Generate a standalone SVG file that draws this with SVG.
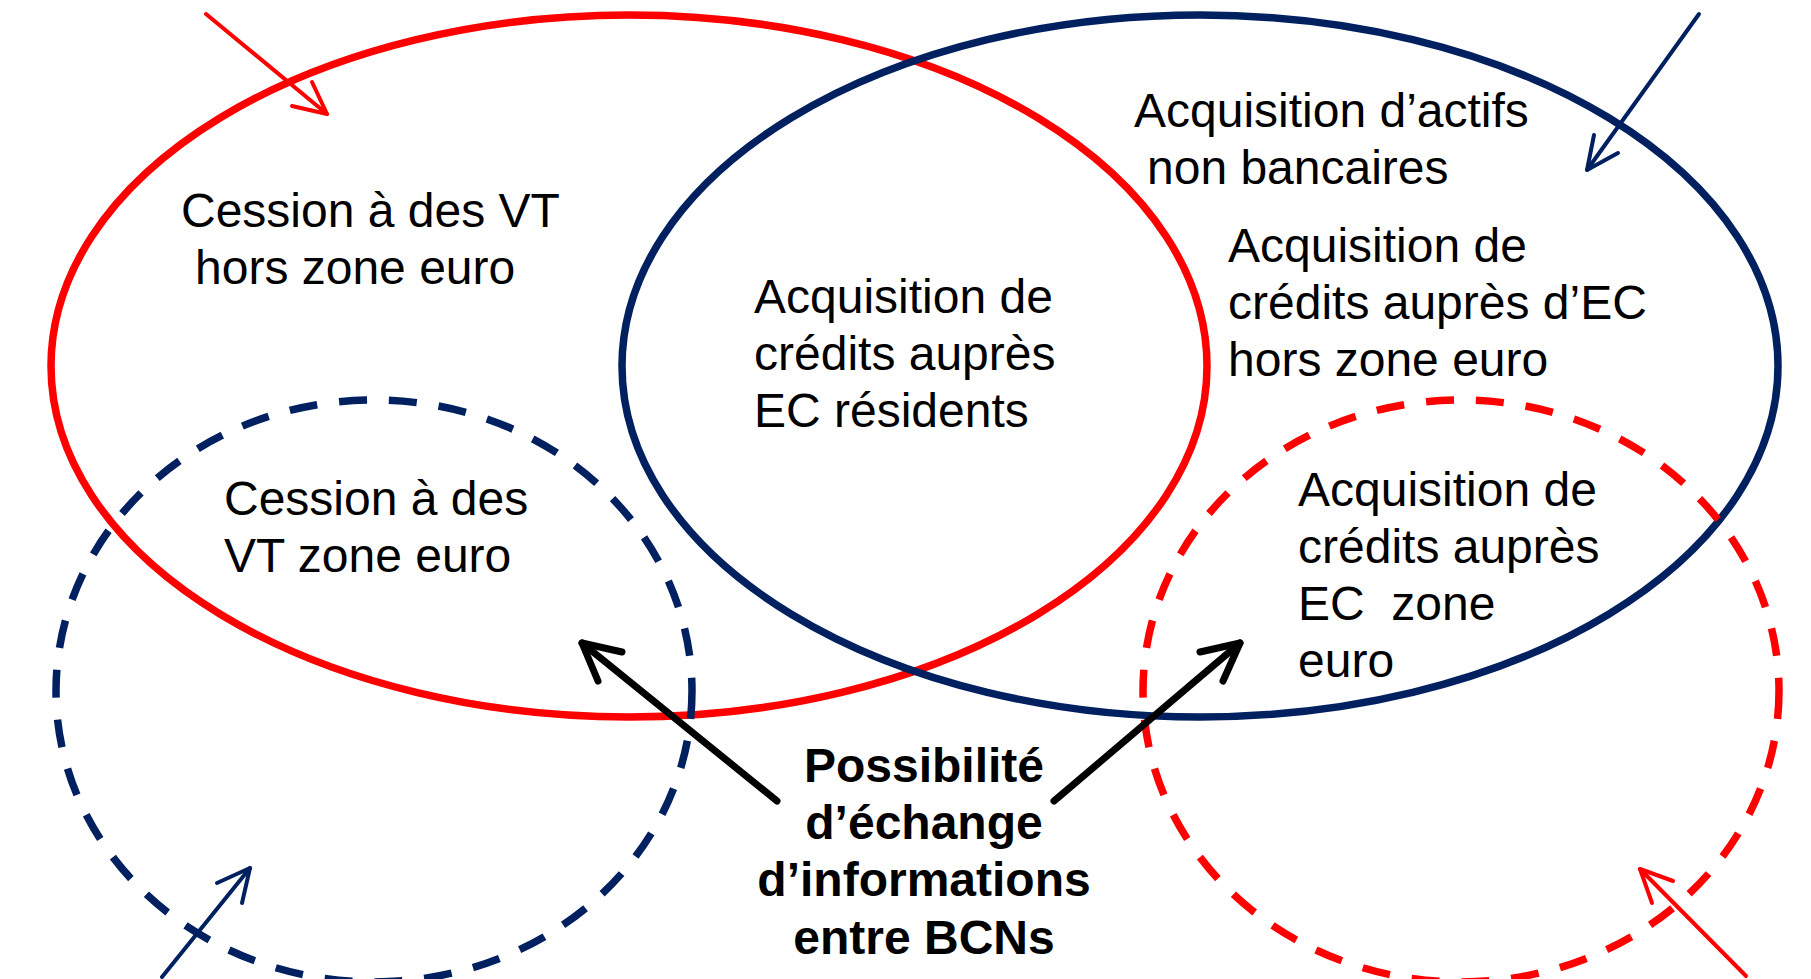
<svg xmlns="http://www.w3.org/2000/svg" width="1811" height="979" viewBox="0 0 1811 979">
<style>
.bg{fill:#ffffff}
.ell{fill:none;stroke-width:7.5}
.red{stroke:#ff0000}
.blue{stroke:#002060}
.dash{stroke-dasharray:28 22}
.t{font-family:"Liberation Sans",Arial,sans-serif;font-size:48px;fill:#000000;white-space:pre}
.b{font-weight:bold;text-anchor:middle}
.thin{fill:none;stroke-width:4;stroke-linecap:round;stroke-linejoin:round}
.thick{fill:none;stroke:#000000;stroke-width:7;stroke-linecap:round;stroke-linejoin:round}
</style>
<rect class="bg" x="0" y="0" width="1811" height="979"/>
<g id="node-red-solid">
<ellipse class="ell red" cx="629" cy="366" rx="578" ry="351"/>
</g>
<g id="node-blue-solid">
<ellipse class="ell blue" cx="1200" cy="366" rx="578" ry="351"/>
</g>
<g id="node-blue-dashed">
<ellipse class="ell blue dash" cx="374" cy="691" rx="318" ry="291"/>
</g>
<g id="node-red-dashed">
<ellipse class="ell red dash" cx="1461" cy="691" rx="318" ry="291"/>
</g>
<g id="connectors">
<line class="thin red" x1="206" y1="14" x2="327" y2="114"/>
<polyline class="thin red" points="292,106 327,114 312,82"/>
<line class="thin blue" x1="1699" y1="14" x2="1587" y2="170"/>
<polyline class="thin blue" points="1594,135 1587,170 1618,153"/>
<line class="thin blue" x1="162" y1="977" x2="250" y2="868"/>
<polyline class="thin blue" points="217,883 250,868 242,903"/>
<line class="thin red" x1="1746" y1="976" x2="1640" y2="869"/>
<polyline class="thin red" points="1673,881 1640,869 1652,903"/>
<line class="thick" x1="777" y1="801" x2="582" y2="643"/>
<polyline class="thick" points="622,652 582,643 598,681"/>
<line class="thick" x1="1054" y1="801" x2="1240" y2="643"/>
<polyline class="thick" points="1200,652 1240,643 1223,681"/>
</g>
<g id="text-cession-hors">
<text class="t" x="181" y="227">Cession à des VT</text>
<text class="t" x="195" y="284">hors zone euro</text>
</g>
<g id="text-residents">
<text class="t" x="754" y="313">Acquisition de</text>
<text class="t" x="754" y="370">crédits auprès</text>
<text class="t" x="754" y="427">EC résidents</text>
</g>
<g id="text-actifs">
<text class="t" x="1134" y="127">Acquisition d’actifs</text>
<text class="t" x="1147" y="184">non bancaires</text>
</g>
<g id="text-ec-hors">
<text class="t" x="1228" y="262">Acquisition de</text>
<text class="t" x="1228" y="319">crédits auprès d’EC</text>
<text class="t" x="1228" y="376">hors zone euro</text>
</g>
<g id="text-cession-zone">
<text class="t" x="224" y="515">Cession à des</text>
<text class="t" x="224" y="572">VT zone euro</text>
</g>
<g id="text-ec-zone">
<text class="t" x="1298" y="506">Acquisition de</text>
<text class="t" x="1298" y="563">crédits auprès</text>
<text class="t" x="1298" y="620" xml:space="preserve">EC  zone</text>
<text class="t" x="1298" y="677">euro</text>
</g>
<g id="text-bcn">
<text class="t b" x="924" y="782">Possibilité</text>
<text class="t b" x="924" y="839">d’échange</text>
<text class="t b" x="924" y="896">d’informations</text>
<text class="t b" x="924" y="954">entre BCNs</text>
</g>
</svg>
